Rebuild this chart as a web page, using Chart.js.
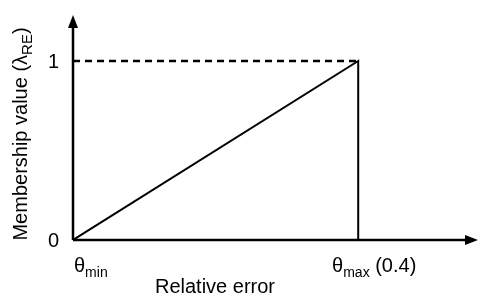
<!DOCTYPE html>
<html>
<head>
<meta charset="utf-8">
<script src="https://cdn.jsdelivr.net/npm/chart.js@4"></script>
<style>
  html, body { margin: 0; padding: 0; background: #fff; }
  #wrap { width: 479px; height: 295px; }
</style>
</head>
<body>
<div id="wrap"><canvas id="chart"></canvas></div>
<script>
// membership function: rises from theta_min to theta_max, then drops to 0
const thetaMin = 0;
const thetaMax = 0.4;
const rampX = [thetaMin, thetaMax, thetaMax];
const rampY = [0, 1, 0];
const dashX = [thetaMin, thetaMax];
const dashY = [1, 1];
const yTicks = [0, 1];
const xTicks = [thetaMin, thetaMax];
const xTickMain = ["\u03b8", "\u03b8"];
const xTickSub = ["min", "max"];
const xTickTail = ["", " (0.4)"];

const FONT = "Arial, 'Liberation Sans', sans-serif";

const axesPlugin = {
  id: "axes",
  afterDatasetsDraw(chart) {
    const ctx = chart.ctx;
    const xs = chart.scales.x, ys = chart.scales.y;
    const x0 = xs.getPixelForValue(0);
    const y0 = ys.getPixelForValue(0);
    const right = xs.right, top = ys.top;
    ctx.save();
    ctx.strokeStyle = "#000";
    ctx.fillStyle = "#000";
    ctx.lineWidth = 2.5;
    ctx.beginPath();
    ctx.moveTo(x0, y0);
    ctx.lineTo(right - 8, y0);
    ctx.moveTo(x0, y0);
    ctx.lineTo(x0, top + 8);
    ctx.stroke();
    // arrow heads
    ctx.beginPath();
    ctx.moveTo(right, y0);
    ctx.lineTo(right - 13, y0 - 5);
    ctx.lineTo(right - 13, y0 + 5);
    ctx.closePath();
    ctx.fill();
    ctx.beginPath();
    ctx.moveTo(x0, top);
    ctx.lineTo(x0 - 5, top + 13);
    ctx.lineTo(x0 + 5, top + 13);
    ctx.closePath();
    ctx.fill();

    // y tick labels
    ctx.font = "20px " + FONT;
    ctx.textAlign = "right";
    ctx.textBaseline = "middle";
    yTicks.forEach(v => ctx.fillText(String(v), x0 - 14, ys.getPixelForValue(v) + 1));

    // x tick labels with subscripts
    ctx.textBaseline = "alphabetic";
    ctx.textAlign = "left";
    xTicks.forEach((v, i) => {
      const px = xs.getPixelForValue(v);
      ctx.font = "20px " + FONT;
      const w1 = ctx.measureText(xTickMain[i]).width;
      ctx.font = "14px " + FONT;
      const w2 = ctx.measureText(xTickSub[i]).width;
      ctx.font = "20px " + FONT;
      const w3 = ctx.measureText(xTickTail[i]).width;
      let sx = i === 0 ? px + 1 : px - (w1 + w2 + w3) / 2 + 16;
      const base = y0 + 32;
      ctx.fillText(xTickMain[i], sx, base);
      ctx.font = "14px " + FONT;
      ctx.fillText(xTickSub[i], sx + w1, base + 5);
      ctx.font = "20px " + FONT;
      ctx.fillText(xTickTail[i], sx + w1 + w2, base);
    });

    // x title
    ctx.textAlign = "center";
    ctx.font = "20px " + FONT;
    ctx.fillText("Relative error", 215, y0 + 53);

    // y title (rotated)
    ctx.translate(27, 134);
    ctx.rotate(-Math.PI / 2);
    ctx.font = "20px " + FONT;
    const a = "Membership value (\u03bb";
    const b = "RE";
    const c = ")";
    const wa = ctx.measureText(a).width;
    ctx.font = "15px " + FONT;
    const wb = ctx.measureText(b).width;
    ctx.font = "20px " + FONT;
    const wc = ctx.measureText(c).width;
    let sx = -(wa + wb + wc) / 2;
    ctx.textAlign = "left";
    ctx.fillText(a, sx, 0);
    ctx.font = "15px " + FONT;
    ctx.fillText(b, sx + wa, 5);
    ctx.font = "20px " + FONT;
    ctx.fillText(c, sx + wa + wb, 0);
    ctx.restore();
  }
};

new Chart(document.getElementById("chart"), {
  type: "scatter",
  data: {
    datasets: [
      {
        data: rampX.map((x, i) => ({ x: x, y: rampY[i] })),
        showLine: true,
        borderColor: "#000",
        borderWidth: 2,
        pointRadius: 0,
        fill: false
      },
      {
        data: dashX.map((x, i) => ({ x: x, y: dashY[i] })),
        showLine: true,
        borderColor: "#000",
        borderWidth: 2.5,
        borderDash: [7, 5],
        pointRadius: 0,
        fill: false
      }
    ]
  },
  options: {
    responsive: true,
    maintainAspectRatio: false,
    animation: false,
    layout: { padding: { left: 73, right: 1, top: 15, bottom: 55 } },
    plugins: { legend: { display: false }, tooltip: { enabled: false } },
    scales: {
      x: { type: "linear", display: false, min: 0, max: 0.568 },
      y: { type: "linear", display: false, min: 0, max: 1.257 }
    }
  },
  plugins: [axesPlugin]
});
</script>
</body>
</html>
